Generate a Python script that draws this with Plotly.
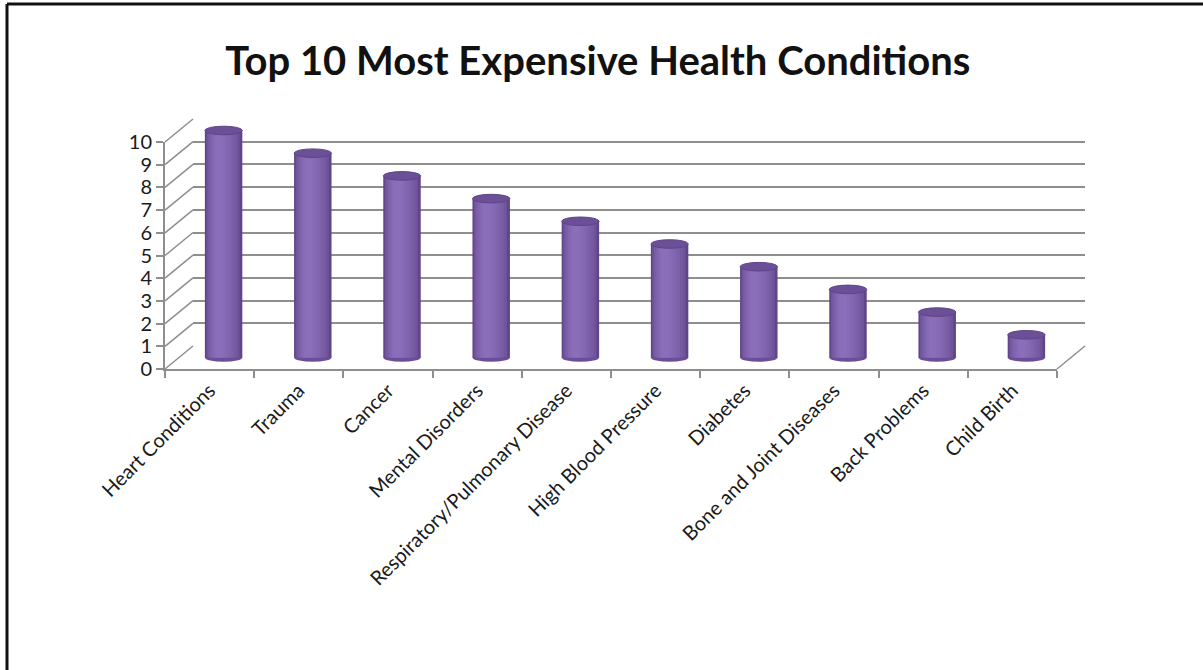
import plotly.graph_objects as go

# ---------------- data ----------------
categories = ["Heart Conditions", "Trauma", "Cancer", "Mental Disorders",
              "Respiratory/Pulmonary Disease", "High Blood Pressure", "Diabetes",
              "Bone and Joint Diseases", "Back Problems", "Child Birth"]
values = [10, 9, 8, 7, 6, 5, 4, 3, 2, 1]
y_ticks = list(range(0, 11))
title_text = "Top 10 Most Expensive Health Conditions"

# ---------------- geometry (pixels) ----------------
W, H = 1203, 670
def fx(px): return px / W
def fy(py): return 1 - py / H

FRONT_L, FRONT_R = 165, 1057      # front floor edge
FRONT_Y0 = 369                    # front value 0
PPU = 22.7                        # pixels per unit
DX, DY = 28, 23                   # depth offset to back wall
YMAX = 10

GRID = "#8e8e8e"
FONT = "Lato"

fig = go.Figure()

# ---- back wall (subplot x/y) : gridlines ----
fig.add_trace(go.Scatter(x=[0], y=[0], xaxis="x", yaxis="y", mode="markers",
                         marker=dict(opacity=0), hoverinfo="skip", showlegend=False))

# ---- cylinders (subplot x2/y2), mid-depth ----
mid_l = FRONT_L + DX / 2
mid_r = FRONT_R + DX / 2
mid_y0 = FRONT_Y0 - DY / 2
PAD = 0.6
bar_w = 0.42

def mix(c1, c2, t):
    a = [int(c1[i:i + 2], 16) for i in (1, 3, 5)]
    b = [int(c2[i:i + 2], 16) for i in (1, 3, 5)]
    return "#%02x%02x%02x" % tuple(round(a[k] + (b[k] - a[k]) * t) for k in range(3))

dark, light = "#5f4589", "#8a6eba"
layers = 8
shift = -0.05
for k in range(layers):
    t = k / (layers - 1)
    w = bar_w * (1 - 0.8 * t)
    c = mix(dark, light, t ** 0.5)
    off = -w / 2 + (shift * t if k > 0 else 0)
    fig.add_trace(go.Bar(x=categories, y=values, xaxis="x2", yaxis="y2",
                         width=[w] * len(values), offset=[off] * len(values),
                         marker=dict(color=c, line=dict(width=0)),
                         hoverinfo="skip" if k else "x+y", showlegend=False))

shapes = []
ell_h = 0.19
for i, v in enumerate(values):
    # bottom rounded edge
    shapes.append(dict(type="circle", xref="x2", yref="y2", layer="below",
                       x0=i - bar_w / 2, x1=i + bar_w / 2, y0=-ell_h, y1=ell_h,
                       fillcolor="#6a4f98", line=dict(width=0)))
    # top ellipse
    shapes.append(dict(type="circle", xref="x2", yref="y2", layer="above",
                       x0=i - bar_w / 2, x1=i + bar_w / 2, y0=v - ell_h, y1=v + ell_h,
                       fillcolor="#6b5098", line=dict(color="#5e4589", width=1)))

# ---- front axes (subplot x3/y3) ----
fig.add_trace(go.Scatter(x=categories, y=values, xaxis="x3", yaxis="y3", mode="markers",
                         marker=dict(opacity=0), hoverinfo="skip", showlegend=False))

# ---- left wall diagonals & floor right edge ----
for v in y_ticks:
    py_f = FRONT_Y0 - PPU * v
    shapes.append(dict(type="line", xref="paper", yref="paper",
                       x0=fx(FRONT_L), y0=fy(py_f), x1=fx(FRONT_L + DX), y1=fy(py_f - DY),
                       line=dict(color=GRID, width=1.5)))
shapes.append(dict(type="line", xref="paper", yref="paper",
                   x0=fx(FRONT_R), y0=fy(FRONT_Y0), x1=fx(FRONT_R + DX), y1=fy(FRONT_Y0 - DY),
                   line=dict(color=GRID, width=1.5)))

# ---- outer frame (top & left) ----
shapes.append(dict(type="line", xref="paper", yref="paper", x0=fx(7), y0=fy(4), x1=1, y1=fy(4),
                   line=dict(color="#111111", width=3)))
shapes.append(dict(type="line", xref="paper", yref="paper", x0=fx(7), y0=fy(4), x1=fx(7), y1=0,
                   line=dict(color="#111111", width=3)))

fig.update_layout(
    template="none",
    width=W, height=H, autosize=False,
    margin=dict(l=0, r=0, t=0, b=0, pad=0, autoexpand=False),
    paper_bgcolor="white", plot_bgcolor="rgba(0,0,0,0)",
    showlegend=False, barmode="overlay",
    title=dict(text=title_text, x=0.497, xanchor="center", y=fy(61), yanchor="middle",
               font=dict(family=FONT, size=40, color="#111111", weight="bold")),
    # back wall
    xaxis=dict(domain=[fx(FRONT_L + DX), fx(FRONT_R + DX)], range=[0, 1], visible=False,
               anchor="y", automargin=False),
    yaxis=dict(domain=[fy(FRONT_Y0 - DY), fy(FRONT_Y0 - DY - PPU * YMAX)], range=[0, YMAX],
               anchor="x", tickvals=y_ticks, showticklabels=False, ticks="", automargin=False,
               showgrid=True, gridcolor=GRID, gridwidth=2, zeroline=False, showline=False),
    # bars
    xaxis2=dict(domain=[fx(mid_l), fx(mid_r)], type="category", range=[-0.5, 9.5],
                visible=False, anchor="y2", automargin=False),
    yaxis2=dict(domain=[fy(mid_y0 + PAD * PPU), fy(mid_y0 - (YMAX + PAD) * PPU)],
                range=[-PAD, YMAX + PAD], visible=False, anchor="x2", automargin=False),
    # front axes
    xaxis3=dict(domain=[fx(FRONT_L), fx(FRONT_R)], type="category", range=[-0.5, 9.5],
                anchor="y3", showline=True, linecolor=GRID, linewidth=2, automargin=False,
                ticks="outside", tickson="boundaries", ticklen=7, tickcolor=GRID, tickwidth=1.5,
                tickangle=-45, showgrid=False, zeroline=False,
                tickfont=dict(family=FONT, size=20, color="#1a1a1a")),
    yaxis3=dict(domain=[fy(FRONT_Y0), fy(FRONT_Y0 - PPU * YMAX)], range=[0, YMAX],
                anchor="x3", tickvals=y_ticks, showline=True, linecolor=GRID, linewidth=2,
                ticks="outside", ticklen=7, tickcolor=GRID, tickwidth=1.5, automargin=False,
                showgrid=False, zeroline=False,
                tickfont=dict(family=FONT, size=20, color="#1a1a1a")),
    shapes=shapes,
)

fig.write_html("out.html", config={"displayModeBar": False},
               post_script="document.body.style.margin='0';document.body.style.overflow='hidden';")
